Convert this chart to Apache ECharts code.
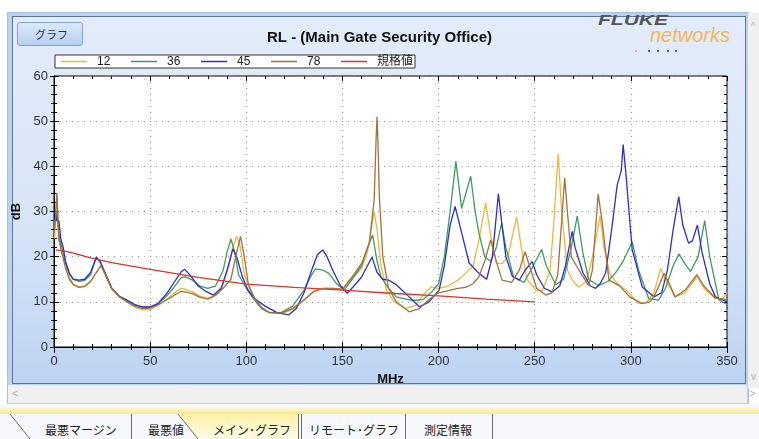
<!DOCTYPE html>
<html>
<head>
<meta charset="utf-8">
<script src="https://cdn.jsdelivr.net/npm/echarts@6/dist/echarts.min.js"></script>
<style>
  body { margin: 0; width: 759px; height: 439px; overflow: hidden; background: #fff; position: relative;
         font-family: "Liberation Sans", Arial, "Noto Sans CJK JP", sans-serif; }
  .abs { position: absolute; }
  #frame { left: 7px; top: 12px; width: 740px; height: 391px; border: 1px solid #a7bfe2; background: #bcd2f1; }
  #panel { left: 12px; top: 16px; width: 732px; height: 366px; border: 1px solid #5f7497;
           background: linear-gradient(to bottom, #e3ecf9 0%, #d8e5f7 55%, #bdd3f3 100%); }
  #hscroll { left: 8px; top: 385px; width: 739px; height: 18px; background: #f0f0f0; color: #b0b0b0; font-size: 11px; }
  #vscroll { left: 748px; top: 13px; width: 11px; height: 375px; background: #f0f0f0; color: #b0b0b0; font-size: 10px; }
  #btn { left: 17px; top: 22px; width: 64px; height: 22px; border: 1px solid #86a3d3; border-radius: 3px;
         background: linear-gradient(to bottom, #dde9fa, #b7cff2); font: 11px "Noto Sans CJK JP", sans-serif;
         color: #333; line-height: 22px; text-indent: 17px; }
  #fluke { left: 598px; top: 12px; font: italic bold 14px "Liberation Sans", Arial, sans-serif; color: #555;
           transform: scaleX(1.5); transform-origin: left top; }
  #networks { left: 650px; top: 24px; font: italic 20px "Liberation Sans", Arial, sans-serif; color: #f2b757; }
  .dot { position: absolute; top: 50px; width: 2px; height: 2px; background: #666; }
  #chart { left: 0; top: 0; width: 759px; height: 439px; }
  #tabs { left: 0; top: 404px; }
</style>
</head>
<body>
<div id="frame" class="abs"></div>
<div id="panel" class="abs"></div>
<div id="hscroll" class="abs"><span class="abs" style="left:4px;top:2px">&lt;</span><span class="abs" style="left:741px;top:2px">&gt;</span></div>
<div id="vscroll" class="abs"><span class="abs" style="left:3px;top:8px">^</span><span class="abs" style="left:3px;top:358px">v</span></div>
<div id="btn" class="abs">グラフ</div>
<div id="fluke" class="abs">FLUKE</div>
<div id="networks" class="abs">networks</div>
<div class="dot" style="left:635px;background:#f0b24c"></div>
<div class="dot" style="left:648px"></div>
<div class="dot" style="left:657px"></div>
<div class="dot" style="left:667px"></div>
<div class="dot" style="left:675px"></div>

<svg id="tabs" class="abs" width="759" height="35">
  <defs>
    <linearGradient id="band" x1="0" y1="0" x2="0" y2="1">
      <stop offset="0" stop-color="#fdfae0"/><stop offset="1" stop-color="#f6e98e"/>
    </linearGradient>
    <linearGradient id="act" x1="0" y1="0" x2="0" y2="1">
      <stop offset="0" stop-color="#fdf3a8"/><stop offset="1" stop-color="#fffbe6"/>
    </linearGradient>
  </defs>
  <rect x="0" y="0" width="759" height="35" fill="#f6f8fb"/>
  <rect x="0" y="3" width="759" height="7" fill="url(#band)"/>
  <polygon points="178,10 198,35 298,35 298,10" fill="url(#act)"/>
  <g stroke="#6a6a6a" stroke-width="1" fill="none">
    <line x1="10" y1="10" x2="30" y2="35"/>
    <line x1="131.5" y1="10" x2="131.5" y2="35"/>
    <line x1="178" y1="10" x2="198" y2="35"/>
    <line x1="298.5" y1="10" x2="298.5" y2="35"/>
    <line x1="301.5" y1="10" x2="301.5" y2="35"/>
    <line x1="405.5" y1="10" x2="405.5" y2="35"/>
    <line x1="492.5" y1="10" x2="492.5" y2="35"/>
  </g>
  <g font-family="Noto Sans CJK JP" font-size="12" fill="#222" text-anchor="middle">
    <text x="81" y="31">最悪マージン</text>
    <text x="166" y="31">最悪値</text>
    <text x="252" y="31">メイン･グラフ</text>
    <text x="354" y="31">リモート･グラフ</text>
    <text x="448" y="31">測定情報</text>
  </g>
</svg>

<div id="chart" class="abs"></div>

<script>
// 凡例の名前
const seriesNames = ["12", "36", "45", "78", "規格値"];
const seriesColors = ["#f2b43e", "#3d9b62", "#2a2fd2", "#a3713b", "#e2302a"];

// 各ペアのリターンロス [MHz, dB]
const s12 = [
  [0.3, 24], [1.5, 34], [2.5, 24], [4, 21], [6, 18], [8, 15.5], [10, 14], [13, 13.3], [16, 13.3], [19, 14.5],
  [22, 16.5], [24.5, 18.2], [27, 15.5], [30, 12.8], [34, 11], [38, 10], [42, 8.8], [46, 8.2], [50, 8.3], [54, 9.2],
  [58, 10.3], [62, 11.8], [66, 13], [68, 12.8], [72, 12.2], [76, 11.2], [80, 10.8], [84, 11.5], [88, 14], [91, 18],
  [93, 22], [95, 24.5], [97, 22], [99, 16], [102, 12.5], [106, 9.5], [110, 8], [115, 7.4], [120, 7.6], [125, 8.5],
  [130, 10.4], [135, 12.2], [140, 13], [145, 13], [150, 12.7], [155, 15], [160, 17.5], [163, 21], [166.5, 30], [168, 26],
  [170, 18], [173, 12.5], [177, 10], [183, 8.5], [188, 9.2], [192, 11.5], [196, 13.3], [200, 13], [205, 13.5], [210, 14.8],
  [214, 16.3], [218, 18], [221, 23.7], [224.5, 31.9], [227, 25], [230, 18.5], [233, 18.5], [236, 20], [240.6, 28.8], [243, 22],
  [246, 15], [250.5, 12.6], [254, 12.5], [258, 17], [260, 28], [262.2, 42.8], [264, 30], [267, 17], [270, 14.5], [273, 13.3],
  [277, 14.5], [280, 20], [284, 29], [286, 22], [289, 16.3], [293, 14], [298, 12.4], [304, 9.6], [308, 9.8], [312, 12],
  [315.5, 17.4], [318, 15], [323, 11.1], [328, 12], [334.4, 15.6], [338, 13], [344, 10.7], [348, 10.8], [350, 12]
];
const s36 = [
  [0.3, 27], [1.5, 30], [2.5, 25], [4, 22], [6, 18.5], [8, 16.3], [10, 15], [13, 14.5], [16, 14.8], [19, 16],
  [22, 19.8], [24, 19], [27, 16], [30, 13], [34, 11.2], [38, 10.2], [42, 9.3], [46, 8.8], [50, 8.8], [54, 9.5],
  [58, 11], [62, 13], [66, 15.3], [68, 15.6], [72, 14.8], [76, 13.5], [80, 13], [84, 13.5], [88, 17], [90, 21],
  [92, 23.9], [94, 21], [96, 16], [100, 13], [104, 10.5], [108, 8.5], [112, 7.6], [118, 7.6], [124, 9], [130, 12.6],
  [134, 16], [136, 17.3], [140, 17], [143, 16.3], [147, 14], [151, 12.6], [155, 15], [160, 18], [163, 22], [165.7, 24.8],
  [168, 19], [170, 15.5], [174, 13], [178, 11.1], [186, 10.3], [192, 10.5], [196, 12], [200, 14], [203, 20], [206, 30],
  [209, 41.1], [212, 30.7], [216.7, 37.8], [219, 30], [221, 25.2], [224, 20], [227, 19], [230, 22], [232.8, 27.4], [235, 22],
  [239, 15.5], [244.4, 14.3], [248, 17], [253.6, 21.6], [256, 18], [261, 13.8], [265, 15], [269, 22], [272.1, 29], [275, 21],
  [278, 15], [283, 13.6], [288, 14.5], [292, 16.4], [296, 19], [300.7, 23.3], [304, 17], [309.3, 10.7], [314.5, 10.4], [318, 13],
  [322, 18], [325, 20.6], [328, 18.5], [331, 16.7], [335, 20], [338.4, 28], [341, 20], [345.8, 10.4], [350, 9.4]
];
const s45 = [
  [0.3, 30], [1.5, 28], [2.6, 27.8], [3.5, 24], [4.7, 22.2], [6, 19], [8, 16.3], [10, 15], [13, 14.8], [16, 15],
  [19, 16.5], [22, 19.9], [24, 18.8], [27, 16], [30, 13], [34, 11.2], [38, 10.4], [42, 9.4], [46, 8.9], [50, 8.9],
  [54, 9.6], [58, 11.5], [62, 14], [66, 16.6], [68, 17.2], [71, 15.8], [75, 13.5], [79, 12.3], [83, 11.5], [87, 13],
  [90, 17], [93, 21.7], [95, 20], [98, 15.5], [101, 12.5], [105, 10.5], [110, 9], [116, 7.6], [122, 7.1], [126, 8.5],
  [130, 12], [134, 17], [137, 20.5], [139.7, 21.5], [142, 20], [145, 17], [149, 13.5], [152.5, 11.9], [156, 13.5], [160, 15.5],
  [163, 18], [165.4, 19.9], [168, 16.5], [171, 15], [174, 14.8], [178, 13.8], [184.7, 11.1], [190, 8.9], [195, 10], [200.3, 12.6],
  [203, 18], [206, 27], [208.6, 31.1], [211, 27], [215.9, 18.6], [221, 16.3], [225, 15], [228, 20], [231.1, 33.9], [233, 27],
  [235, 20], [238.4, 15.6], [242, 14.8], [245, 17], [248.7, 18.9], [251, 16], [255, 13], [259.1, 12.2], [263, 13.5], [266, 18],
  [269.5, 25.6], [271, 22], [275, 16.5], [279, 13.5], [281.7, 13], [284, 14], [286.9, 16.4], [290, 26], [292.9, 35.9], [295, 39],
  [296, 44.8], [297.5, 38], [300.7, 21.5], [305.9, 13.3], [312, 11.1], [316, 12], [319, 17], [322, 26], [324.9, 33.3], [327, 27],
  [330, 23], [332, 23.5], [334.6, 27], [337, 21], [341, 14], [344, 11.1], [350, 10]
];
const s78 = [
  [0.3, 26], [1.5, 34], [2.5, 24], [4, 21], [6, 17.5], [8, 15], [10, 13.8], [13, 13.2], [16, 13.5], [19, 14.5],
  [22, 16.5], [24.5, 18], [27, 15.8], [30, 13], [34, 11.2], [38, 10], [42, 9], [46, 8.5], [50, 8.6], [54, 9.3],
  [58, 10.3], [62, 11.3], [66, 12.3], [68, 12.2], [72, 11.8], [76, 11], [80, 10.6], [84, 11.4], [88, 13], [92, 15],
  [94, 19], [97, 24.5], [99, 20], [101, 14], [104, 11], [108, 8.8], [112, 7.6], [118, 7.5], [124, 8.5], [130, 10.4],
  [135, 12.3], [140, 13], [145, 13], [150, 12.8], [155, 15.5], [160, 18.5], [164, 23], [166.5, 32.6], [167.5, 46], [168, 51],
  [168.5, 45], [169.2, 33.3], [171, 20], [174, 13], [178, 10], [184.7, 7.8], [190, 8.5], [195, 10.5], [200, 12], [205, 12.5],
  [210, 13], [214, 13.2], [218, 14], [221, 15.6], [224, 19], [227.1, 23.7], [230, 19], [233, 14.8], [238, 14.3], [242, 17],
  [245, 21.1], [248, 17], [251, 13], [255.7, 11.5], [259, 12], [262, 16], [265.6, 37.4], [267, 30], [269, 20], [273, 17],
  [278, 13.6], [280, 17], [283, 33.9], [285, 28], [288.6, 14.8], [294, 13.6], [299.4, 11.1], [305.9, 9.6], [310, 10], [313, 12],
  [317.3, 16.3], [320, 14], [323, 11.1], [328, 12.5], [334.4, 16], [338, 13.5], [344, 10.8], [350, 10.5]
];
// 規格値 (リミット)
const limit = [
  [1, 21.5], [5, 21.3], [10, 20.8], [20, 19.6], [30, 18.7], [50, 17.2], [75, 15.4], [100, 13.9],
  [125, 13.2], [150, 12.6], [175, 11.9], [200, 11.3], [225, 10.6], [250, 10.0]
];

const chart = echarts.init(document.getElementById("chart"));

// 軸の共通設定
function axisBase(min, max, interval) {
  return {
    type: "value", min: min, max: max, interval: interval,
    axisLine: { show: false, onZero: false, lineStyle: { color: "#000" } },
    axisTick: { show: true, inside: true, length: 5, lineStyle: { color: "#000" } },
    minorTick: { show: true, splitNumber: 5, length: 3, lineStyle: { color: "#000" } },
    axisLabel: { show: false },
    splitLine: { show: false },
  };
}
const fontFamily = '"Liberation Sans", Arial, "Noto Sans CJK JP", sans-serif';
const gridLine = { show: true, lineStyle: { type: [1, 5], width: 1.2, color: "#999" } };

const xMain = Object.assign(axisBase(0, 350, 50), {
  position: "bottom",
  name: "MHz", nameLocation: "middle", nameGap: 20,
  nameTextStyle: { fontWeight: "bold", fontSize: 13, color: "#111", fontFamily: fontFamily },
  axisLine: { show: true, onZero: false, lineStyle: { color: "#000" } },
  axisTick: { show: true, inside: false, length: 6, lineStyle: { color: "#000" } },
  axisLabel: { show: true, margin: 8, fontSize: 13, color: "#333", fontFamily: fontFamily },
  splitLine: gridLine,
});
const xInner = Object.assign(axisBase(0, 350, 50), { position: "bottom" });
const xTop = Object.assign(axisBase(0, 350, 50), { position: "top" });

const yMain = Object.assign(axisBase(0, 60, 10), {
  position: "left",
  name: "dB", nameLocation: "middle", nameGap: 20, nameRotate: 90,
  nameTextStyle: { fontWeight: "bold", fontSize: 13, color: "#111", fontFamily: fontFamily },
  axisLine: { show: true, onZero: false, lineStyle: { color: "#000" } },
  axisTick: { show: true, inside: false, length: 4, lineStyle: { color: "#000" } },
  axisLabel: { show: true, margin: 6, fontSize: 13, color: "#333", fontFamily: fontFamily },
  splitLine: gridLine,
});
const yInner = Object.assign(axisBase(0, 60, 10), { position: "left" });
const yRight = Object.assign(axisBase(0, 60, 10), { position: "right" });

const seriesData = [s12, s36, s45, s78, limit];
const series = seriesData.map((data, i) => ({
  type: "line",
  name: seriesNames[i],
  data: data,
  symbol: "none",
  xAxisIndex: 0,
  yAxisIndex: 0,
  lineStyle: { width: 1.3, color: seriesColors[i] },
  itemStyle: { color: seriesColors[i] },
  z: i === 3 ? 4 : 3,
}));

const option = {
  animation: false,
  textStyle: { fontFamily: fontFamily },
  title: {
    text: "RL - (Main Gate Security Office)",
    left: "center", top: 25,
    textStyle: { fontSize: 15, fontWeight: "bold", color: "#111", fontFamily: fontFamily },
  },
  legend: {
    left: 55, top: 55,
    backgroundColor: "#fff", borderColor: "#333", borderWidth: 1,
    padding: [0, 2, 0, 6],
    icon: "rect",
    itemGap: 20, itemWidth: 26, itemHeight: 1.5,
    data: seriesNames.map((n, i) => ({
      name: n,
      textStyle: { width: i === 4 ? 36 : 14 },
    })),
    textStyle: { fontSize: 12, color: "#222", lineHeight: 13, padding: [0, 0, 0, 5], fontFamily: fontFamily },
  },
  grid: {
    left: 54, top: 76, width: 673, height: 271,
    show: true, backgroundColor: "#fff", borderColor: "#000", borderWidth: 1,
  },
  xAxis: [xMain, xInner, xTop],
  yAxis: [yMain, yInner, yRight],
  series: series,
};
chart.setOption(option);
</script>
</body>
</html>
